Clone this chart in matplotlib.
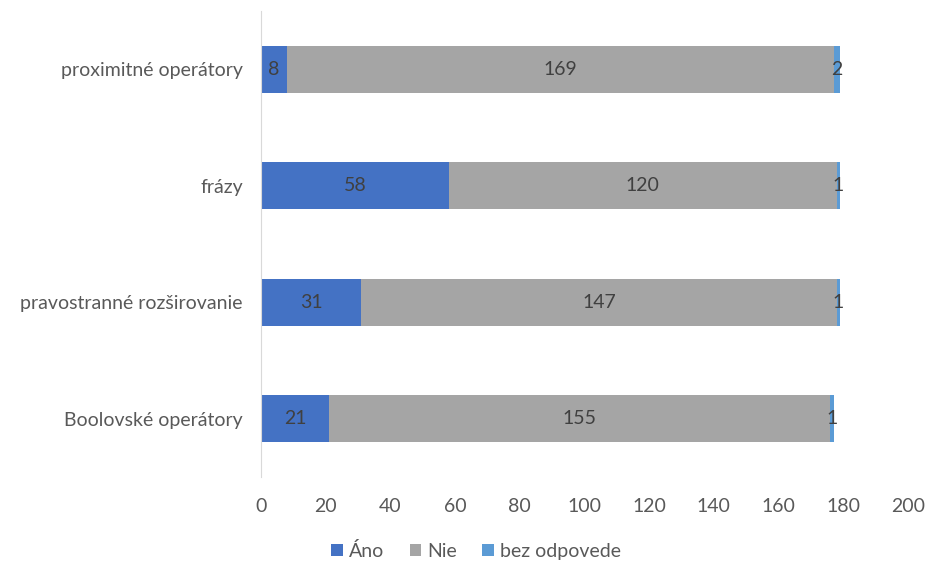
import matplotlib.pyplot as plt
import numpy as np

plt.rcParams['font.family'] = ['Lato', 'DejaVu Sans']

categories = ["Boolovské operátory", "pravostranné rozširovanie", "frázy", "proximitné operátory"]
ano = [21, 31, 58, 8]
nie = [155, 147, 120, 169]
bez = [1, 1, 1, 2]
series_names = ["Áno", "Nie", "bez odpovede"]
colors = ["#4472C4", "#A5A5A5", "#5B9BD5"]
xticks = [0, 20, 40, 60, 80, 100, 120, 140, 160, 180, 200]

fig = plt.figure(figsize=(9.25, 5.63), dpi=100)
ax = fig.add_axes([261 / 925, 1 - 477 / 563, 647 / 925, 466 / 563])

y = np.arange(len(categories))
left = np.zeros(len(categories))
for vals, name, col in zip([ano, nie, bez], series_names, colors):
    bars = ax.barh(y, vals, left=left, height=0.4, color=col, label=name)
    for b, v in zip(bars, vals):
        ax.text(b.get_x() + b.get_width() / 2, b.get_y() + b.get_height() / 2, str(v),
                ha='center', va='center', fontsize=14, color='#404040')
    left += np.array(vals)

ax.set_xlim(0, 200)
ax.set_ylim(-0.5, len(categories) - 0.5)
ax.set_xticks(xticks)
ax.set_yticks(y)
ax.set_yticklabels(categories)
ax.tick_params(axis='both', length=0, labelsize=14, colors='#595959')
ax.tick_params(axis='y', pad=13)
ax.tick_params(axis='x', pad=15)
for s in ['top', 'right', 'bottom']:
    ax.spines[s].set_visible(False)
ax.spines['left'].set_color('#D9D9D9')

fig.legend(*ax.get_legend_handles_labels(), loc='center', bbox_to_anchor=(476 / 925, 1 - 551 / 563),
           ncol=3, frameon=False, fontsize=14, handlelength=0.6, handleheight=0.6,
           handletextpad=0.3, columnspacing=1.3, labelcolor='#595959')

plt.savefig("out.png", dpi=100)
